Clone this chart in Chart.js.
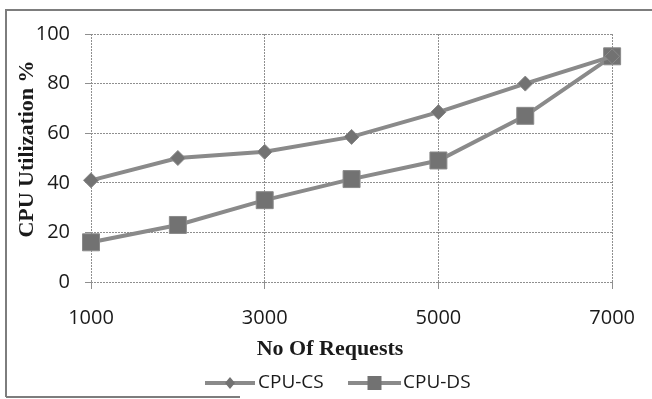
<!DOCTYPE html>
<html>
<head>
<meta charset="utf-8">
<script src="https://cdn.jsdelivr.net/npm/chart.js@4/dist/chart.umd.min.js"></script>
<style>
  html, body { margin: 0; padding: 0; background: #fff; }
  #wrap { width: 652px; height: 399px; position: relative; }
</style>
</head>
<body>
<div id="wrap"><canvas id="cpu"></canvas></div>
<script>
// Number of requests on the x axis
const requests = ['1000', '2000', '3000', '4000', '5000', '6000', '7000'];
// Labelled x positions (every other category)
const labelledRequests = ['1000', '3000', '5000', '7000'];
// CPU utilisation (%) for each scheme
const cpuCS = [41, 50, 52.5, 58.5, 68.5, 80, 91];
const cpuDS = [16, 23, 33, 41.5, 49, 67, 91];
// Axis titles and series names
const yTitle = 'CPU Utilization %';
const xTitle = 'No Of Requests';
const seriesNames = ['CPU-CS', 'CPU-DS'];

const LINE = '#8a8a8a';
const MARK = '#727272';
const GRID = '#8f8f8f';
const TICK_FONT = { family: '"Open Sans", sans-serif', size: 20 };
const TITLE_FONT = 'bold 22px "Liberation Serif", "Times New Roman", serif';

function isLabelled(i) { return labelledRequests.includes(requests[i]); }

// Outer frame, axis titles and the line-and-marker legend
const decor = {
  id: 'decor',
  beforeDraw(chart) {
    const ctx = chart.ctx;
    ctx.save();
    ctx.fillStyle = '#fff';
    ctx.fillRect(0, 0, chart.width, chart.height);
    ctx.strokeStyle = '#7d7d7d';
    ctx.lineWidth = 2;
    ctx.beginPath();
    ctx.moveTo(6, 397); ctx.lineTo(6, 10); ctx.lineTo(652, 10);
    ctx.moveTo(6, 397); ctx.lineTo(240, 397);
    ctx.stroke();
    ctx.restore();
  },
  afterDraw(chart) {
    const ctx = chart.ctx;
    const area = chart.chartArea;
    ctx.save();
    ctx.fillStyle = '#1a1a1a';
    ctx.font = TITLE_FONT;
    ctx.textAlign = 'center';
    ctx.textBaseline = 'middle';
    // y title
    ctx.save();
    ctx.translate(27, 149);
    ctx.rotate(-Math.PI / 2);
    ctx.fillText(yTitle, 0, 0);
    ctx.restore();
    // x title
    ctx.fillText(xTitle, 330, 349);

    // legend
    const ly = 383;
    const items = [
      { x0: 205, x1: 255, style: 'diamond', text: seriesNames[0], tx: 258 },
      { x0: 348, x1: 401, style: 'square', text: seriesNames[1], tx: 403 }
    ];
    ctx.font = '19px "Open Sans", sans-serif';
    ctx.textAlign = 'left';
    items.forEach(it => {
      ctx.strokeStyle = LINE;
      ctx.lineWidth = 4;
      ctx.beginPath();
      ctx.moveTo(it.x0, ly); ctx.lineTo(it.x1, ly);
      ctx.stroke();
      const cx = (it.x0 + it.x1) / 2;
      ctx.fillStyle = MARK;
      ctx.beginPath();
      if (it.style === 'diamond') {
        ctx.moveTo(cx, ly - 6); ctx.lineTo(cx + 5, ly); ctx.lineTo(cx, ly + 6); ctx.lineTo(cx - 5, ly);
        ctx.closePath();
      } else {
        ctx.rect(cx - 7, ly - 7, 14, 14);
      }
      ctx.fill();
      ctx.fillStyle = '#1a1a1a';
      ctx.fillText(it.text, it.tx, ly);
    });
    ctx.restore();
  }
};

new Chart(document.getElementById('cpu'), {
  type: 'line',
  data: {
    labels: requests,
    datasets: [
      {
        label: seriesNames[0],
        data: cpuCS,
        borderColor: LINE,
        borderWidth: 4,
        pointStyle: 'rectRot',
        pointRadius: 7.5,
        pointBackgroundColor: MARK,
        pointBorderColor: LINE,
        pointBorderWidth: 1,
        tension: 0
      },
      {
        label: seriesNames[1],
        data: cpuDS,
        borderColor: LINE,
        borderWidth: 4,
        pointStyle: 'rect',
        pointRadius: 12,
        pointBackgroundColor: MARK,
        pointBorderColor: LINE,
        pointBorderWidth: 1,
        tension: 0
      }
    ]
  },
  options: {
    responsive: true,
    maintainAspectRatio: false,
    animation: false,
    events: [],
    layout: { padding: { top: 34, left: 0, right: 30, bottom: 0 } },
    plugins: { legend: { display: false }, tooltip: { enabled: false } },
    scales: {
      x: {
        offset: false,
        grid: {
          color: c => (isLabelled(c.index) ? GRID : 'transparent'),
          lineWidth: 1,
          tickLength: 7
        },
        border: { display: false, dash: [2, 1] },
        ticks: {
          autoSkip: false,
          maxRotation: 0,
          padding: 17,
          color: '#1a1a1a',
          font: TICK_FONT,
          callback: (v, i) => (isLabelled(i) ? requests[i] : '')
        },
        afterFit: s => { s.height = 117; }
      },
      y: {
        min: 0,
        max: 100,
        ticks: { stepSize: 20, padding: 15, color: '#1a1a1a', font: TICK_FONT },
        grid: { color: GRID, lineWidth: 1, tickLength: 6 },
        border: { display: false, dash: [2, 1] },
        afterFit: s => { s.width = 91; }
      }
    }
  },
  plugins: [decor]
});
</script>
</body>
</html>
